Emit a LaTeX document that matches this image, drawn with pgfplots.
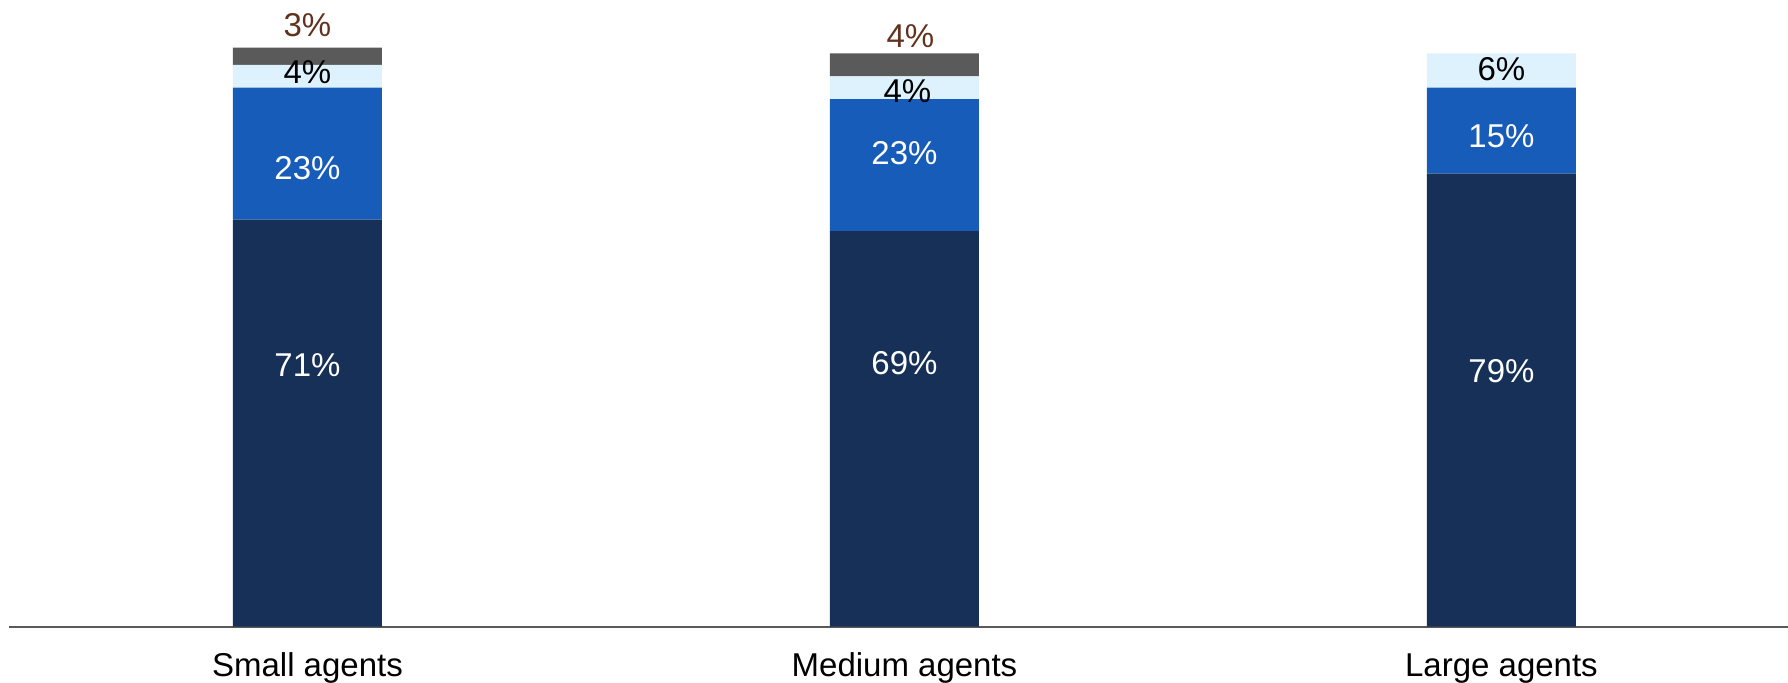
\documentclass[border=0pt]{standalone}
\usepackage{pgfplots}
\pgfplotsset{compat=1.18}
\usepackage{fontspec}
\setmainfont{Liberation Sans}
\definecolor{navy}{HTML}{163057}
\definecolor{midblue}{HTML}{185CBA}
\definecolor{paleblue}{HTML}{DEF2FD}
\definecolor{darkgrey}{HTML}{5A5A5A}
\definecolor{brownlab}{HTML}{63321C}
\definecolor{axisgrey}{HTML}{595959}

\begin{document}
\begin{tikzpicture}[font=\fontsize{16.5}{19}\selectfont]
    \begin{axis}[
        name=ax,
        scale only axis,
        width=889.5pt,
        height=313.35pt,
        xmin=-0.5, xmax=2.48,
        ymin=0, ymax=109.3,
        ybar stacked,
        bar width=74.5pt,
        axis x line=bottom,
        axis y line=none,
        x axis line style={-, draw=axisgrey, line width=1pt},
        ytick=\empty,
        xtick={0,1,2},
        xticklabels={Small agents, Medium agents, Large agents},
        major tick length=0pt,
        xticklabel style={anchor=base, yshift=-25pt, inner sep=0pt},
        clip=false,
    ]

    % segments, bottom to top
    \addplot[fill=navy, draw=none] coordinates {(0,71) (1,69) (2,79)};
    \addplot[fill=midblue, draw=none] coordinates {(0,23) (1,23) (2,15)};
    \addplot[fill=paleblue, draw=none] coordinates {(0,4) (1,4) (2,6)};
    \addplot[fill=darkgrey, draw=none] coordinates {(0,3) (1,4) (2,0)};

    % label positions, drawn after the axis so they sit above the bars
    \coordinate (a1) at (axis cs:0,45.6);
    \coordinate (a2) at (axis cs:1,46.0);
    \coordinate (a3) at (axis cs:2,44.5);
    \coordinate (b1) at (axis cs:0,80.0);
    \coordinate (b2) at (axis cs:1,82.6);
    \coordinate (b3) at (axis cs:2,85.6);
    \coordinate (c1) at (axis cs:0,96.7);
    \coordinate (c2) at (axis cs:1.005,93.4);
    \coordinate (c3) at (axis cs:2,97.3);
    \coordinate (d1) at (axis cs:0,104.9);
    \coordinate (d2) at (axis cs:1.01,103.0);
    \end{axis}

    \node[white] at (a1) {71\%};
    \node[white] at (a2) {69\%};
    \node[white] at (a3) {79\%};
    \node[white] at (b1) {23\%};
    \node[white] at (b2) {23\%};
    \node[white] at (b3) {15\%};
    \node[black] at (c1) {4\%};
    \node[black] at (c2) {4\%};
    \node[black] at (c3) {6\%};
    \node[brownlab] at (d1) {3\%};
    \node[brownlab] at (d2) {4\%};

    \pgfresetboundingbox
    \path ([xshift=-4.5pt,yshift=-27.65pt]ax.south west) rectangle ++(894pt,341pt);
\end{tikzpicture}
\end{document}
